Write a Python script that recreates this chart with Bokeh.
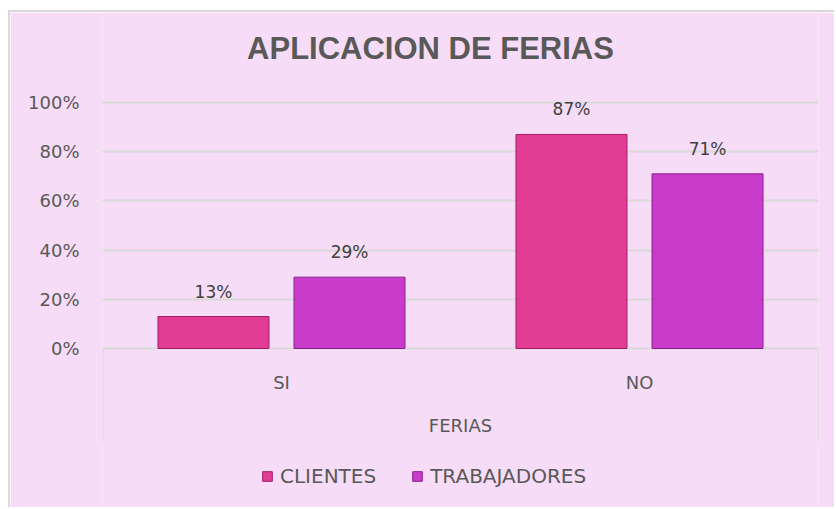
from bokeh.plotting import figure
from bokeh.models import (ColumnDataSource, Range1d, FixedTicker,
                          NumeralTickFormatter, Legend, LegendItem)
from bokeh.transform import dodge
from bokeh.embed import file_html
from bokeh.resources import INLINE
from bokeh.core.properties import value

# ---- data ----
categories = ["SI", "NO"]
series_names = ["CLIENTES", "TRABAJADORES"]
clientes = [0.13, 0.87]
trabajadores = [0.29, 0.71]
y_ticks = [0, 0.2, 0.4, 0.6, 0.8, 1.0]
title_text = "APLICACION DE FERIAS"
x_title = "FERIAS"

# ---- style / layout ----
BG = "#F6DCF6"
GRID = "#D9D9D9"
TXT = "#595959"
C1, C1_LINE = "#E23C94", "#A01E64"
C2, C2_LINE = "#C93BCB", "#8A2090"
BAR_W = 0.31
OFF = 0.19

W, H = 826, 497            # canvas (page offset 10, 12 after margin + border)
FRAME_L, FRAME_R = 92, 18  # frame spans page x 102..818
PX_PER_UNIT = 246          # 0% at page y 348, 100% at page y 102
ZERO_PAGE_Y, CANVAS_TOP = 348, 12
CANVAS_LEFT = 10


def ydat(page_y):
    return (ZERO_PAGE_Y - page_y) / PX_PER_UNIT


n = len(categories)
slot_px = (W - FRAME_L - FRAME_R) / n


def xdat(page_x):
    return (page_x - CANVAS_LEFT - FRAME_L) / slot_px


pos = [i + 0.5 for i in range(n)]          # slot centre of each category
src = ColumnDataSource(dict(
    pos=pos,
    cat=categories,
    clientes=clientes,
    trabajadores=trabajadores,
    clientes_lbl=[f"{round(v * 100)}%" for v in clientes],
    trabajadores_lbl=[f"{round(v * 100)}%" for v in trabajadores],
))

p = figure(width=W, height=H,
           x_range=Range1d(0, n),
           y_range=Range1d(ydat(CANVAS_TOP + H), ydat(CANVAS_TOP)),
           output_backend="svg", toolbar_location=None,
           x_axis_location=None,
           min_border_left=FRAME_L, min_border_right=FRAME_R,
           min_border_top=0, min_border_bottom=0,
           background_fill_color=BG, border_fill_color=BG,
           outline_line_color=None)
p.styles = {"border-left": "2px solid #D9D9D9", "border-top": "2px solid #D9D9D9",
            "margin-top": "10px", "margin-left": "8px"}

# y axis
p.yaxis.ticker = FixedTicker(ticks=y_ticks)
p.yaxis.formatter = NumeralTickFormatter(format="0%")
p.yaxis.axis_line_color = None
p.yaxis.major_tick_line_color = None
p.yaxis.minor_tick_line_color = None
p.yaxis.major_label_standoff = 17
p.yaxis.major_label_text_font = "DejaVu Sans"
p.yaxis.major_label_text_font_size = "18px"
p.yaxis.major_label_text_color = TXT
p.ygrid.ticker = FixedTicker(ticks=y_ticks)
p.ygrid.grid_line_color = GRID
p.ygrid.grid_line_width = 2
p.xgrid.grid_line_color = None

# title
p.text(x=[xdat(430)], y=[ydat(48)], text=[title_text], text_align="center",
       text_baseline="middle", text_font=value("Liberation Sans"),
       text_font_style="bold", text_font_size="31px", text_color=TXT)

# Excel-like category axis: edge lines, category labels, axis title
p.segment(x0=[0, n], y0=[0, 0], x1=[0, n], y1=[ydat(441), ydat(441)],
          line_color=GRID, line_width=2)
p.text(x="pos", y=ydat(382), text="cat", source=src, text_align="center",
       text_baseline="middle", text_font=value("DejaVu Sans"),
       text_font_size="18px", text_color=TXT)
p.text(x=[n / 2], y=[ydat(425)], text=[x_title], text_align="center",
       text_baseline="middle", text_font=value("DejaVu Sans"),
       text_font_size="18px", text_color=TXT)

# bars
r1 = p.vbar(x=dodge("pos", -OFF), top="clientes", width=BAR_W,
            source=src, fill_color=C1, line_color=C1_LINE, line_width=1)
r2 = p.vbar(x=dodge("pos", OFF), top="trabajadores", width=BAR_W,
            source=src, fill_color=C2, line_color=C2_LINE, line_width=1)

# data labels
for col, off in (("clientes", -OFF), ("trabajadores", OFF)):
    p.text(x=dodge("pos", off), y=col, text=col + "_lbl", source=src,
           text_align="center", text_baseline="middle", y_offset=-25,
           text_font=value("DejaVu Sans"), text_font_size="17px", text_color="#404040")

legend = Legend(items=[LegendItem(label=series_names[0], renderers=[r1]),
                       LegendItem(label=series_names[1], renderers=[r2])],
                orientation="horizontal", location=(159, 21),
                background_fill_alpha=0, border_line_color=None,
                padding=2, margin=0, spacing=35,
                glyph_width=12, glyph_height=12, label_standoff=7,
                label_text_font="DejaVu Sans", label_text_font_size="20px",
                label_text_color=TXT)
p.add_layout(legend, "center")

open("out.html", "w").write(file_html(p, INLINE))
